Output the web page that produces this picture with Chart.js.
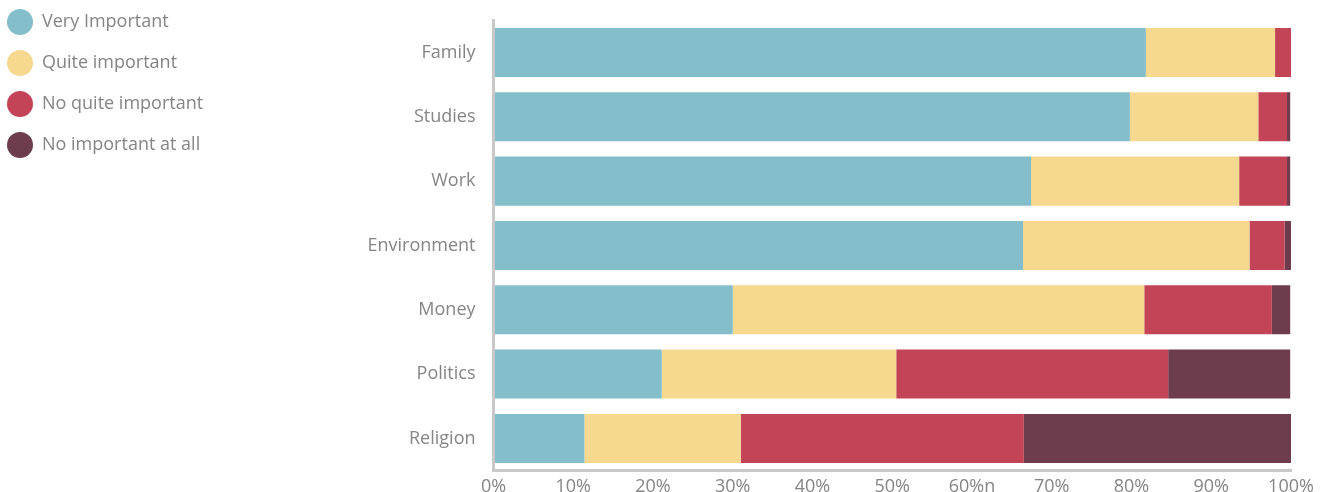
<!DOCTYPE html>
<html>
<head>
<meta charset="utf-8">
<script src="https://cdn.jsdelivr.net/npm/chart.js@4.4.1/dist/chart.umd.min.js"></script>
<style>
  html, body { margin: 0; padding: 0; background: #ffffff; }
  #wrap { width: 1325px; height: 492px; }
</style>
</head>
<body>
<div id="wrap"><canvas id="c" width="1325" height="492"></canvas></div>
<script>
const categories = ['Family', 'Studies', 'Work', 'Environment', 'Money', 'Politics', 'Religion'];
const seriesNames = ['Very Important', 'Quite important', 'No quite important', 'No important at all'];
const veryImportant = [81.8, 79.8, 67.4, 66.4, 30.0, 21.1, 11.4];
const quiteImportant = [16.2, 16.1, 26.1, 28.4, 51.6, 29.4, 19.6];
const noQuiteImportant = [2.0, 3.6, 6.0, 4.4, 16.0, 34.1, 35.5];
const noImportantAtAll = [0.0, 0.4, 0.4, 0.8, 2.3, 15.3, 33.5];
const tickLabels = ['0%', '10%', '20%', '30%', '40%', '50%', '60%n', '70%', '80%', '90%', '100%'];
const colors = ['#84BECB', '#F6D88F', '#C34457', '#6D3D4D'];

const FONT = '"Open Sans", "DejaVu Sans", sans-serif';
const TEXT = '#858585';
const FSIZE = 18;

const sideLegend = {
  id: 'sideLegend',
  afterDraw(chart) {
    const ctx = chart.ctx;
    ctx.save();
    ctx.font = FSIZE + 'px ' + FONT;
    ctx.textBaseline = 'middle';
    ctx.textAlign = 'left';
    chart.data.datasets.forEach((ds, i) => {
      const cy = 22 + i * 41;
      ctx.beginPath();
      ctx.arc(20, cy, 13, 0, Math.PI * 2);
      ctx.fillStyle = ds.backgroundColor;
      ctx.fill();
      ctx.fillStyle = TEXT;
      ctx.fillText(ds.label, 42, cy);
    });
    ctx.restore();
  }
};

const seriesData = [veryImportant, quiteImportant, noQuiteImportant, noImportantAtAll];

new Chart(document.getElementById('c'), {
  type: 'bar',
  data: {
    labels: categories,
    datasets: seriesData.map((d, i) => ({
      label: seriesNames[i],
      data: d,
      backgroundColor: colors[i],
      borderWidth: 0,
      categoryPercentage: 1,
      barPercentage: 0.762
    }))
  },
  options: {
    indexAxis: 'y',
    responsive: false,
    animation: false,
    layout: { autoPadding: false, padding: { top: 20.3, right: 34, bottom: 0, left: 0 } },
    plugins: {
      legend: { display: false },
      tooltip: { enabled: false },
      title: { display: false }
    },
    scales: {
      x: {
        stacked: true,
        min: 0,
        max: 100,
        grid: { display: false, drawTicks: false },
        border: { display: true, color: '#c8c8c8', width: 3, z: 1 },
        ticks: {
          stepSize: 10,
          padding: 5,
          color: TEXT,
          font: { family: FONT, size: FSIZE },
          maxRotation: 0,
          autoSkip: false,
          callback: (v) => tickLabels[Math.round(v / 10)]
        },
        afterFit(scale) {
          scale.height = 21.4;
          scale.paddingLeft = 0; scale.paddingRight = 0;
          scale.paddingTop = 0; scale.paddingBottom = 0;
        }
      },
      y: {
        stacked: true,
        grid: { display: false, drawTicks: false },
        border: { display: true, color: '#c8c8c8', width: 3, z: 1 },
        ticks: {
          padding: 18,
          color: TEXT,
          font: { family: FONT, size: FSIZE }
        },
        afterFit(scale) {
          scale.width = 493.5;
          scale.paddingLeft = 0; scale.paddingRight = 0;
          scale.paddingTop = 0; scale.paddingBottom = 0;
        }
      }
    }
  },
  plugins: [sideLegend]
});
</script>
</body>
</html>
